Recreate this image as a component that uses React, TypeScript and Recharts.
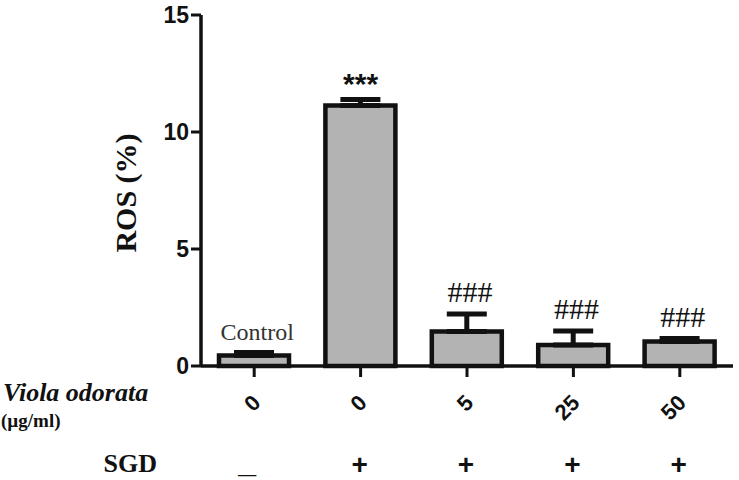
import React from 'react';
import { ComposedChart, Bar, ErrorBar, Line, XAxis, YAxis } from 'recharts';

const doses = ['0', '0', '5', '25', '50'];
const sgdSigns = ['_', '+', '+', '+', '+'];
const rosValues = [0.45, 11.13, 1.47, 0.9, 1.05];
const semValues = [0.13, 0.26, 0.75, 0.6, 0.12];
const notes = ['Control', '***', '###', '###', '###'];
const yTicks = [0, 5, 10, 15];

const data = doses.map((d, i) => ({
  key: `g${i}`,
  dose: d,
  sgd: sgdSigns[i],
  ros: rosValues[i],
  err: [0, semValues[i]],
  top: rosValues[i] + semValues[i],
  note: notes[i],
}));

const SANS = '"Liberation Sans", Arial, sans-serif';
const SERIF = '"Liberation Serif", "Times New Roman", serif';

const XTick = (props: any) => {
  const { x, payload } = props;
  const row = data.find((d) => d.key === payload.value) || data[0];
  const isPlus = row.sgd === '+';
  return (
    <g>
      <text
        transform={`translate(${x + 2},398.5) rotate(-45)`}
        textAnchor="end"
        dy="0.36em"
        fontFamily={SANS}
        fontWeight="bold"
        fontSize={22}
        fill="#111"
      >
        {row.dose}
      </text>
      <text
        x={x + (isPlus ? -1 : -7)}
        y={isPlus ? 474 : 472}
        textAnchor="middle"
        fontFamily={SANS}
        fontWeight="bold"
        fontSize={isPlus ? 28 : 32}
        fill="#111"
      >
        {row.sgd}
      </text>
    </g>
  );
};

const NoteDot = (props: any) => {
  const { cx, cy, payload, index } = props;
  const n: string = payload.note;
  if (n === '***') {
    return (
      <text key={`n${index}`} x={cx} y={cy - 5} textAnchor="middle" fontFamily={SANS} fontWeight="bold" fontSize={30} fill="#111">
        {n}
      </text>
    );
  }
  if (n === 'Control') {
    return (
      <text key={`n${index}`} x={cx + 3} y={cy - 12.5} textAnchor="middle" fontFamily={SERIF} fontSize={24} fill="#333">
        {n}
      </text>
    );
  }
  return (
    <text key={`n${index}`} x={cx + 3} y={cy - 12} textAnchor="middle" fontFamily={SERIF} fontSize={30} fill="#111">
      {n}
    </text>
  );
};

const XLabels = () => (
  <g>
    <text x={3} y={401} fontFamily={SERIF} fontStyle="italic" fontWeight="bold" fontSize={26} fill="#111">
      Viola odorata
    </text>
    <text x={1} y={427} fontFamily={SERIF} fontWeight="bold" fontSize={19} fill="#111">
      (µg/ml)
    </text>
    <text x={157} y={472} textAnchor="end" fontFamily={SERIF} fontWeight="bold" fontSize={26} fill="#111">
      SGD
    </text>
  </g>
);

const YLabel = () => (
  <text
    x={125}
    y={193}
    dy="0.35em"
    textAnchor="middle"
    transform="rotate(-90,125,193)"
    fontFamily={SERIF}
    fontWeight="bold"
    fontSize={30}
    fill="#111"
  >
    ROS (%)
  </text>
);

export default function App() {
  return (
    <div style={{ position: 'absolute', left: 0, top: 0, width: 739, height: 480, background: '#fff' }}>
      <ComposedChart width={739} height={480} data={data} margin={{ top: 15, right: 6, bottom: 0, left: 0 }}>
        <XAxis
          dataKey="key"
          type="category"
          interval={0}
          height={114}
          tick={<XTick />}
          tickSize={11}
          tickLine={{ stroke: '#111', strokeWidth: 3 }}
          axisLine={{ stroke: '#111', strokeWidth: 3.5 }}
          label={{ content: () => <XLabels /> }}
        />
        <YAxis
          type="number"
          domain={[0, 15]}
          ticks={yTicks}
          interval={0}
          width={201}
          tickSize={10}
          tickMargin={2}
          tickLine={{ stroke: '#111', strokeWidth: 3 }}
          axisLine={{ stroke: '#111', strokeWidth: 3.5 }}
          tick={{ fontFamily: SANS, fontWeight: 'bold', fontSize: 23, fill: '#111' }}
          label={{ content: () => <YLabel /> }}
        />
        <Bar dataKey="ros" barSize={70} fill="#b3b3b3" stroke="#111" strokeWidth={4.5} isAnimationActive={false}>
          <ErrorBar dataKey="err" direction="y" width={20} stroke="#111" strokeWidth={5} isAnimationActive={false} />
        </Bar>
        <Line
          dataKey="top"
          stroke="none"
          dot={NoteDot}
          activeDot={false}
          legendType="none"
          isAnimationActive={false}
        />
      </ComposedChart>
    </div>
  );
}
